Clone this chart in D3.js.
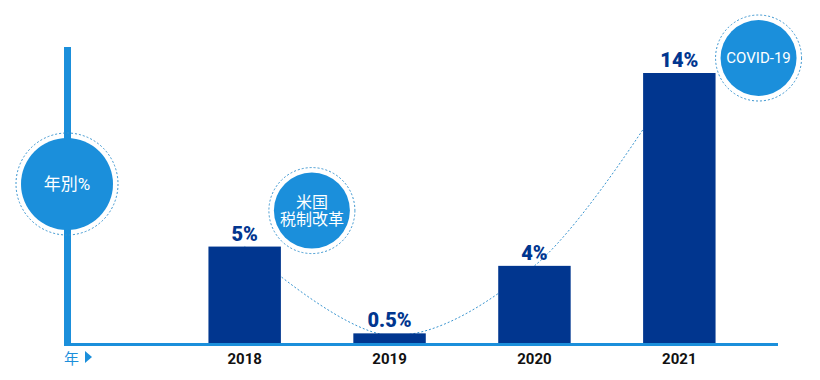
<!DOCTYPE html>
<html>
<head>
<meta charset="utf-8">
<script src="https://cdn.jsdelivr.net/npm/d3@7"></script>
<style>
  body { margin: 0; background: #fff; }
  svg { display: block; font-family: Roboto, "Noto Sans CJK JP", sans-serif; }
</style>
</head>
<body>
<svg id="chart" width="820" height="380"></svg>
<script>
// data
var years = ["2018", "2019", "2020", "2021"];
var values = [5, 0.5, 4, 14];
var valueLabels = ["5%", "0.5%", "4%", "14%"];
var yAxisLabel = "年別%";
var xAxisLabel = "年";
var noteTax = ["米国", "税制改革"];
var noteCovid = ["COVID-19"];

var navy = "#01368f", blue = "#1b8fdb";

var svg = d3.select("#chart");

var x = d3.scaleBand()
    .domain(years)
    .range([136, 788])
    .paddingInner(0.5)
    .paddingOuter(0.5);

var y = d3.scaleLinear()
    .domain([0, 14])
    .range([343, 73]);

var bw = x.bandwidth();

// dotted trend curve (behind the bars)
var curvePts = years.map(function(d, i) { return [x(d) + bw / 2, y(values[i]) + (i == 1 ? 2 : 0)]; });
svg.append("path")
    .attr("d", d3.line().curve(d3.curveCatmullRom.alpha(0.5))(curvePts))
    .attr("fill", "none")
    .attr("stroke", "#3a95d0")
    .attr("stroke-width", 1)
    .attr("stroke-dasharray", "2,2");

// axes
svg.append("rect")
    .attr("x", 64).attr("y", 47)
    .attr("width", 7).attr("height", 299)
    .attr("fill", blue);
svg.append("rect")
    .attr("x", 64).attr("y", 343)
    .attr("width", 714).attr("height", 3)
    .attr("fill", blue);

// bars
svg.selectAll(".bar")
    .data(years)
    .enter().append("rect")
    .attr("class", "bar")
    .attr("x", function(d) { return x(d); })
    .attr("y", function(d, i) { return y(values[i]); })
    .attr("width", bw)
    .attr("height", function(d, i) { return y(0) - y(values[i]); })
    .attr("fill", navy);

// value labels
svg.selectAll(".vlabel")
    .data(years)
    .enter().append("text")
    .attr("class", "vlabel")
    .attr("x", function(d) { return x(d) + bw / 2; })
    .attr("y", function(d, i) { return y(values[i]) - 6; })
    .attr("text-anchor", "middle")
    .attr("font-size", 20)
    .attr("font-weight", 900)
    .attr("fill", navy)
    .text(function(d, i) { return valueLabels[i]; });

// year tick labels
svg.selectAll(".ylabel")
    .data(years)
    .enter().append("text")
    .attr("class", "ylabel")
    .attr("x", function(d) { return x(d) + bw / 2; })
    .attr("y", 364)
    .attr("text-anchor", "middle")
    .attr("font-size", 15)
    .attr("font-weight", "bold")
    .attr("fill", "#111")
    .text(function(d) { return d; });

// x axis caption
svg.append("text")
    .attr("x", 64).attr("y", 364)
    .attr("font-size", 15)
    .attr("fill", blue)
    .text(xAxisLabel);
svg.append("path")
    .attr("d", "M85,351 L92,357 L85,363 Z")
    .attr("fill", blue);

// bubbles
function bubble(cx, cy, r, lines, fs) {
  var g = svg.append("g");
  g.append("circle").attr("cx", cx).attr("cy", cy).attr("r", r + 5)
    .attr("fill", "none").attr("stroke", "#3a95d0")
    .attr("stroke-width", 1).attr("stroke-dasharray", "2,2");
  g.append("circle").attr("cx", cx).attr("cy", cy).attr("r", r).attr("fill", blue);
  var lh = fs * 1.1;
  lines.forEach(function(t, i) {
    g.append("text")
      .attr("x", cx)
      .attr("y", cy + (i - (lines.length - 1) / 2) * lh)
      .attr("dy", "0.36em")
      .attr("text-anchor", "middle")
      .attr("font-size", fs)
      .attr("fill", "#fff")
      .text(t);
  });
}

bubble(67, 184, 46, [yAxisLabel], 17);
bubble(x("2018") + bw + 31, y(5) - 36, 38, noteTax, 16);
bubble(x("2021") + bw + 43, y(14) - 15, 38, noteCovid, 15);
</script>
</body>
</html>
